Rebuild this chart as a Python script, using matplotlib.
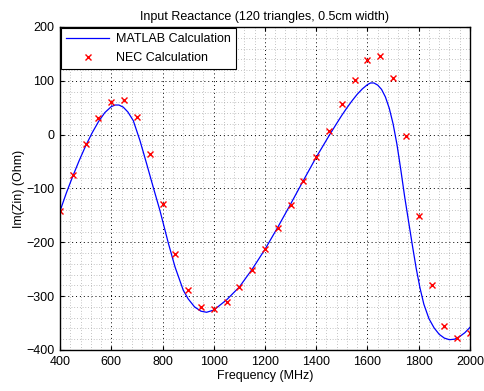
import matplotlib
matplotlib.use('Agg')
import matplotlib.pyplot as plt
from matplotlib.ticker import AutoMinorLocator

plt.rcParams['font.family'] = ['Liberation Sans', 'DejaVu Sans']

# NEC calculation points (MHz, Ohm)
nec_f = [400, 450, 500, 550, 600, 650, 700, 750, 800, 850, 900, 950, 1000,
         1050, 1100, 1150, 1200, 1250, 1300, 1350, 1400, 1450, 1500, 1550,
         1600, 1650, 1700, 1750, 1800, 1850, 1900, 1950, 2000]
nec_x = [-142, -75, -17, 30, 60, 64, 33, -36, -129, -221, -288, -320, -324,
         -310, -283, -251, -213, -173, -131, -86, -41, 7, 56, 102,
         138, 147, 105, -2, -151, -280, -355, -377, -368]

# MATLAB calculation curve
mat_f = [400, 425, 450, 475, 500, 525, 550, 575, 600, 615, 630, 647, 665, 686,
         712, 738, 764, 790, 823, 849, 881, 900, 925, 950, 972, 1000, 1050,
         1100, 1150, 1200, 1250, 1300, 1350, 1400, 1450, 1480, 1500, 1520, 1540,
         1560, 1580, 1600, 1612, 1625, 1640, 1655, 1670, 1685, 1700, 1715,
         1730, 1745, 1760, 1775, 1790, 1805, 1820, 1840, 1860, 1880, 1900,
         1920, 1940, 1960, 1980, 2000]
mat_x = [-142, -108, -77, -48, -21, 3, 24, 41, 52, 55, 55, 51, 42, 26,
         -11, -54, -98, -141, -202, -246, -289, -305, -320, -328, -330, -326,
         -307, -283, -250, -213, -172, -129, -85, -42, -2, 21, 36, 50, 63,
         75, 85, 93, 96, 96, 92, 84, 70, 49, 20, -18,
         -65, -115, -160, -205, -248, -285, -315, -342, -359, -371, -378,
         -381, -380, -375, -368, -358]

fig = plt.figure(figsize=(4.84, 3.91), dpi=100)
ax = fig.add_axes([0.124, 0.105, 0.847, 0.826])

ax.plot(mat_f, mat_x, color='blue', lw=0.9, label='MATLAB Calculation')
ax.plot(nec_f, nec_x, 'x', color='red', ms=4, mew=1.0, ls='none',
        label='NEC Calculation')

ax.set_xlim(400, 2000)
ax.set_ylim(-400, 200)
ax.set_xticks(range(400, 2001, 200))
ax.set_yticks(range(-400, 201, 100))
ax.xaxis.set_minor_locator(AutoMinorLocator(5))
ax.yaxis.set_minor_locator(AutoMinorLocator(5))
ax.grid(which='major', color='black', ls=(0, (1, 3)), lw=0.7)
ax.grid(which='minor', color='0.55', ls=(0, (1, 3)), lw=0.5)
ax.set_axisbelow(True)
ax.tick_params(which='both', direction='in', top=True, right=True, labelsize=9)
ax.tick_params(which='minor', length=0)
ax.tick_params(which='major', length=3, pad=4)
for s in ax.spines.values():
    s.set_linewidth(1.0)

ax.set_title('Input Reactance (120 triangles, 0.5cm width)', fontsize=9, pad=5)
ax.set_xlabel('Frequency (MHz)', fontsize=9, labelpad=2)
ax.set_ylabel('Im(Zin) (Ohm)', fontsize=9, labelpad=1)

leg = ax.legend(loc='upper left', fontsize=9, fancybox=False, framealpha=1,
                edgecolor='black', borderaxespad=0.1, handlelength=3.4,
                borderpad=0.4, labelspacing=0.55, handletextpad=0.6)
leg.get_frame().set_linewidth(0.8)

fig.savefig('out.png', dpi=100)
